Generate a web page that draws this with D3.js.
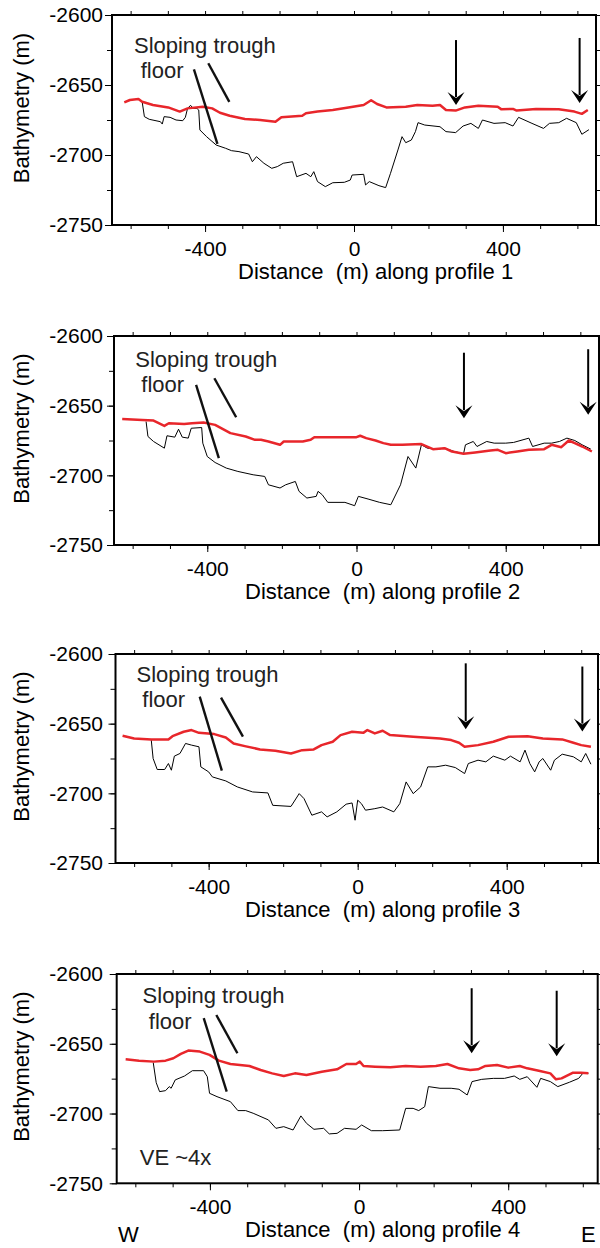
<!DOCTYPE html>
<html><head><meta charset="utf-8">
<script src="https://cdn.jsdelivr.net/npm/d3@7"></script>
<style>
html,body{margin:0;padding:0;background:#fff;}
svg{display:block;font-family:"Liberation Sans",Arial,Helvetica,sans-serif;}
</style></head>
<body>
<svg id="chart" width="600" height="1248"></svg>
<script>
// ---------------- DATA (distance m, bathymetry m) ----------------
const xTickLabels = [-400, 0, 400];
const xMinorTicks = [-600, -500, -400, -300, -200, -100, 0, 100, 200, 300, 400, 500, 600];
const yTickLabels = [-2600, -2650, -2700, -2750];
const yMinorTicks = [-2600, -2625, -2650, -2675, -2700, -2725, -2750];
const profileNames = ["profile 1", "profile 2", "profile 3", "profile 4"];

const redP1 = [[-617,-2662.4],[-602,-2660.7],[-579,-2660],[-569,-2662],[-540,-2664.3],[-499,-2666],[-468,-2669],[-447,-2666.7],[-406,-2665.5],[-381,-2666.7],[-360,-2669.8],[-334,-2672],[-293,-2674.3],[-252,-2675],[-211,-2676.2],[-195,-2673],[-139,-2672],[-129,-2670.2],[-98,-2669],[-57,-2667.9],[-15,-2666],[26,-2664.3],[46,-2660.9],[62,-2663.6],[87,-2666],[139,-2665.5],[170,-2664.3],[211,-2664.8],[231,-2664.3],[247,-2667.9],[273,-2668.3],[298,-2666],[334,-2664.8],[386,-2665.5],[396,-2667.4],[427,-2667.1],[437,-2668.3],[489,-2667.1],[550,-2667.4],[592,-2669],[612,-2670.6],[628,-2667.9]];
const blackP1 = [[-569,-2662],[-563,-2672.6],[-550,-2674.5],[-520,-2676.2],[-515,-2677.9],[-510,-2672.6],[-494,-2673.1],[-478,-2675],[-460,-2675.5],[-453,-2673.1],[-447,-2666.7],[-439,-2664.5],[-432,-2666.7],[-422,-2666.7],[-417,-2667.9],[-414,-2682.1],[-396,-2686.9],[-370,-2692.9],[-345,-2695.2],[-329,-2696.9],[-309,-2697.6],[-283,-2699.3],[-273,-2704.8],[-262,-2701.2],[-242,-2705.9],[-221,-2709.5],[-206,-2708.3],[-190,-2705.9],[-165,-2704.8],[-154,-2715.5],[-129,-2713.1],[-116,-2715.5],[-108,-2711.9],[-98,-2719],[-77,-2722.6],[-57,-2719.8],[-26,-2719.5],[-10,-2717.9],[-5,-2714.3],[26,-2713.8],[31,-2721.4],[41,-2719],[67,-2721.9],[85,-2723.3],[98,-2713.1],[118,-2696.4],[129,-2686.9],[139,-2691.2],[154,-2689.3],[165,-2683.3],[172,-2676.9],[190,-2678.6],[231,-2679.8],[247,-2683.3],[273,-2684],[293,-2679.3],[314,-2677.4],[334,-2681],[345,-2675],[376,-2677.4],[406,-2676.9],[427,-2679.3],[442,-2673.1],[478,-2677.4],[509,-2681],[525,-2677.4],[550,-2676.9],[571,-2673.8],[597,-2676.9],[612,-2685.2],[631,-2681.9]];

const redP2 = [[-628,-2659.5],[-574,-2660.2],[-544,-2660.7],[-515,-2664.5],[-503,-2662.6],[-462,-2663.1],[-441,-2662.6],[-410,-2662.1],[-379,-2663.8],[-338,-2669.7],[-297,-2672.1],[-272,-2674.5],[-256,-2674.5],[-236,-2675.7],[-205,-2678.1],[-195,-2675.7],[-144,-2675.7],[-123,-2674.5],[-113,-2672.6],[-62,-2672.6],[0,-2672.6],[10,-2671.6],[26,-2673.3],[51,-2675],[72,-2676.9],[92,-2678.1],[123,-2678.1],[174,-2677.6],[205,-2681.2],[236,-2680.5],[256,-2682.9],[287,-2684.5],[318,-2683.6],[359,-2682.2],[379,-2681.7],[400,-2684.1],[431,-2682.9],[462,-2681.7],[503,-2681.2],[523,-2678.1],[549,-2679.8],[569,-2675],[585,-2676.9],[605,-2679.3],[631,-2682.9]];
const blackP2 = [[-564,-2661.4],[-559,-2672.1],[-544,-2675.7],[-515,-2680.5],[-508,-2671.6],[-487,-2672.6],[-477,-2666.9],[-467,-2672.6],[-451,-2673.3],[-443,-2666.2],[-415,-2665.7],[-412,-2676.9],[-400,-2686.5],[-379,-2690.8],[-349,-2694.8],[-318,-2697.2],[-277,-2699.6],[-246,-2700.8],[-236,-2706.8],[-205,-2709.1],[-190,-2706.8],[-164,-2704.4],[-154,-2711.5],[-133,-2716.3],[-108,-2715.1],[-103,-2711.5],[-92,-2713.9],[-77,-2719.4],[-31,-2719.4],[-5,-2721.8],[5,-2715.1],[31,-2717],[62,-2719.4],[92,-2721.1],[118,-2706.8],[138,-2686.5],[159,-2694.8],[174,-2678.1],[190,-2680.5],[215,-2681.2],[236,-2680.5],[262,-2682.9],[287,-2684.5],[292,-2678.1],[313,-2675.7],[323,-2679.3],[349,-2675.7],[369,-2676.9],[400,-2676.9],[421,-2676.4],[462,-2673.3],[472,-2679.3],[503,-2676.9],[523,-2676.9],[544,-2675.7],[564,-2673.3],[585,-2675],[605,-2678.1],[628,-2681.2]];

const redP3 = [[-631,-2658.7],[-600,-2660.6],[-554,-2661.3],[-508,-2661.3],[-497,-2659],[-467,-2655.8],[-446,-2654.6],[-426,-2656.6],[-385,-2657.5],[-354,-2659.9],[-333,-2664.2],[-303,-2666.1],[-262,-2668.5],[-221,-2669.5],[-179,-2671.4],[-149,-2669],[-118,-2668.5],[-97,-2665.4],[-67,-2663],[-46,-2658.2],[-15,-2655.8],[15,-2656.6],[26,-2654.6],[46,-2657],[67,-2655.1],[87,-2658.2],[149,-2659.4],[221,-2660.6],[251,-2661.8],[272,-2663.7],[287,-2666.6],[323,-2665.4],[364,-2663],[405,-2659.4],[456,-2659],[497,-2660.6],[549,-2661.3],[579,-2663.7],[600,-2665.4],[626,-2666.6]];
const blackP3 = [[-554,-2661.8],[-549,-2675],[-538,-2682.9],[-518,-2682.9],[-508,-2678.6],[-500,-2683.4],[-492,-2673.3],[-477,-2671.4],[-462,-2664.2],[-446,-2665.4],[-426,-2666.6],[-421,-2681],[-400,-2684.6],[-390,-2688.2],[-354,-2691.1],[-323,-2695.4],[-282,-2699],[-241,-2699.7],[-228,-2708.6],[-179,-2709.4],[-157,-2700.2],[-144,-2703.8],[-123,-2715.7],[-97,-2713.3],[-82,-2716.9],[-56,-2713.3],[-31,-2707.8],[-15,-2706.9],[-7,-2719.3],[0,-2704.9],[10,-2707.4],[21,-2712.1],[46,-2711],[67,-2709.8],[97,-2713.3],[113,-2707.4],[130,-2691.8],[149,-2700.2],[169,-2695.4],[188,-2681],[210,-2681],[236,-2679.8],[262,-2681.5],[287,-2685.8],[297,-2678.6],[323,-2676.2],[344,-2677.4],[364,-2673.3],[395,-2676.2],[410,-2673.3],[436,-2677.4],[449,-2669],[462,-2678.6],[475,-2684.6],[487,-2677.4],[497,-2675],[518,-2683.4],[528,-2676.2],[549,-2671.9],[579,-2673.8],[600,-2677.4],[612,-2671.4],[626,-2679.1]];

const redP4 = [[-626,-2661.1],[-590,-2662.1],[-550,-2662.8],[-519,-2662.1],[-498,-2660.4],[-478,-2657.3],[-458,-2654.9],[-427,-2655.6],[-401,-2658],[-376,-2662.1],[-345,-2664.5],[-294,-2665.9],[-264,-2668.8],[-233,-2671.2],[-202,-2673.1],[-172,-2671.2],[-141,-2672.4],[-100,-2670],[-59,-2668.3],[-34,-2664.5],[-8,-2664.5],[2,-2662.8],[12,-2665.9],[43,-2666.4],[84,-2666.9],[125,-2665.9],[165,-2666.4],[206,-2665.9],[237,-2664.5],[268,-2667.6],[298,-2668.8],[319,-2668.3],[339,-2665.9],[370,-2665.2],[400,-2667.1],[431,-2665.9],[451,-2667.6],[482,-2669.3],[513,-2671.2],[528,-2675.5],[543,-2674.8],[574,-2670.7],[595,-2670.7],[615,-2671.2]];
const blackP4 = [[-552,-2663.5],[-544,-2677.9],[-535,-2684.3],[-519,-2683.6],[-509,-2680.7],[-504,-2681.9],[-493,-2675.9],[-468,-2673.1],[-447,-2669.3],[-417,-2669.3],[-407,-2673.6],[-401,-2685.5],[-381,-2687.9],[-345,-2691.5],[-325,-2697.9],[-304,-2697.9],[-284,-2699.8],[-243,-2704.6],[-223,-2710.6],[-202,-2709.4],[-177,-2711.8],[-156,-2701.7],[-141,-2707],[-121,-2711.3],[-95,-2710.6],[-80,-2714.6],[-59,-2714.2],[-39,-2710.6],[-8,-2711.3],[7,-2708.2],[33,-2712.3],[63,-2712.3],[109,-2711.8],[125,-2696.3],[145,-2696.3],[160,-2697.9],[176,-2695.1],[186,-2680.7],[217,-2681.9],[247,-2681.9],[268,-2682.6],[290,-2686.7],[303,-2677.1],[329,-2675.5],[360,-2674.8],[390,-2674.8],[416,-2673.1],[431,-2675.5],[451,-2673.6],[477,-2681.2],[487,-2674.8],[513,-2677.1],[533,-2680.7],[564,-2677.6],[589,-2674.8],[600,-2671.2],[615,-2671.2]];

// arrows: [distance, top bathymetry, tip bathymetry]
const arrowsP1 = [[274,-2617.9,-2664.3],[606,-2616.4,-2662.9]];
const arrowsP2 = [[288,-2612,-2659],[621,-2609.5,-2656.6]];
const arrowsP3 = [[290,-2606.7,-2654],[603,-2609,-2655.7]];
const arrowsP4 = [[302,-2610.2,-2656.8],[530,-2612,-2659]];

// "Sloping trough floor" pointer lines, in data units: [x1,y1,x2,y2]
const pointersP1 = [[-430,-2638.8,-366.8,-2692.1],[-391.4,-2634.5,-334.9,-2662.1]];
const pointersP2 = [[-430,-2635.1,-369,-2687.7],[-381,-2630.3,-322.5,-2658.3]];
const pointersP3 = [[-424,-2630.6,-364.6,-2683.7],[-366.8,-2631.3,-308,-2659.3]];
const pointersP4 = [[-416.6,-2631.7,-355,-2684.3],[-382.8,-2629.4,-326.3,-2656.8]];

// ---------------- LAYOUT ----------------
const layout = [
  {l:112, t:15,  r:596, b:225,  dom:[-650,650], lx:238,
   txt:[[-591,-2627],[-573,-2645]]},
  {l:114, t:336, r:599, b:545,  dom:[-650,650], lx:245,
   txt:[[-593,-2622],[-576.7,-2640]]},
  {l:115.5, t:654, r:598, b:863, dom:[-650,645], lx:245,
   txt:[[-593.5,-2620.3],[-578,-2638.2]]},
  {l:116.7, t:974, r:597.7, b:1183.3, dom:[-650,640], lx:245,
   txt:[[-580.5,-2621],[-564,-2639.6]]}
];
const reds = [redP1, redP2, redP3, redP4];
const blacks = [blackP1, blackP2, blackP3, blackP4];
const arrows = [arrowsP1, arrowsP2, arrowsP3, arrowsP4];
const pointers = [pointersP1, pointersP2, pointersP3, pointersP4];

const FS = 21, FT = 22;
const svg = d3.select("#chart");
const fmt = d => String(d);

layout.forEach((L, i) => {
  const x = d3.scaleLinear().domain(L.dom).range([L.l, L.r]);
  const y = d3.scaleLinear().domain([-2750, -2600]).range([L.b, L.t]);
  const g = svg.append("g");

  const minorStyle = sel => { sel.select(".domain").remove(); sel.selectAll("line").attr("stroke","#000").attr("stroke-width",1); };
  const xm = xMinorTicks.filter(v=>v>=L.dom[0]&&v<=L.dom[1]);
  g.append("g").attr("transform",`translate(0,${L.b})`)
    .call(d3.axisBottom(x).tickValues(xm).tickSize(4).tickFormat("")).call(minorStyle);
  g.append("g").attr("transform",`translate(0,${L.t})`)
    .call(d3.axisTop(x).tickValues(xm).tickSize(4).tickFormat("")).call(minorStyle);
  g.append("g").attr("transform",`translate(${L.l},0)`)
    .call(d3.axisLeft(y).tickValues(yMinorTicks).tickSize(5).tickFormat("")).call(minorStyle);
  g.append("g").attr("transform",`translate(${L.r},0)`)
    .call(d3.axisRight(y).tickValues(yMinorTicks).tickSize(5).tickFormat("")).call(minorStyle);

  const ax = g.append("g").attr("transform",`translate(0,${L.b})`)
    .call(d3.axisBottom(x).tickValues(xTickLabels).tickSize(7).tickPadding(9).tickFormat(fmt));
  ax.select(".domain").remove();
  ax.selectAll("text").attr("font-size",FS).attr("font-family",'"Liberation Sans",Arial,sans-serif').attr("fill","#000");
  ax.selectAll("line").attr("stroke","#000");

  const ay = g.append("g").attr("transform",`translate(${L.l},0)`)
    .call(d3.axisLeft(y).tickValues(yTickLabels).tickSize(7).tickPadding(L.l - 7 - 103).tickFormat(fmt));
  ay.select(".domain").remove();
  ay.selectAll("text").attr("font-size",FS).attr("font-family",'"Liberation Sans",Arial,sans-serif').attr("fill","#000");
  ay.selectAll("line").attr("stroke","#000");

  const cid = "clip"+i;
  svg.append("clipPath").attr("id",cid).append("rect")
    .attr("x",L.l).attr("y",L.t).attr("width",L.r-L.l).attr("height",L.b-L.t);

  const line = d3.line().x(d=>x(d[0])).y(d=>y(d[1]));
  const plot = g.append("g").attr("clip-path",`url(#${cid})`);
  plot.append("path").datum(blacks[i]).attr("d",line)
    .attr("fill","none").attr("stroke","#000").attr("stroke-width",1).attr("stroke-linejoin","round");
  plot.append("path").datum(reds[i]).attr("d",line)
    .attr("fill","none").attr("stroke","#e8262b").attr("stroke-width",2.5).attr("stroke-linejoin","round");

  g.append("rect").attr("x",L.l).attr("y",L.t).attr("width",L.r-L.l).attr("height",L.b-L.t)
    .attr("fill","none").attr("stroke","#000").attr("stroke-width",2);

  arrows[i].forEach(a => {
    const ax0 = x(a[0]), y0 = y(a[1]), y1 = y(a[2]);
    g.append("line").attr("x1",ax0).attr("x2",ax0).attr("y1",y0).attr("y2",y1-8)
      .attr("stroke","#000").attr("stroke-width",2);
    g.append("path").attr("d",`M${ax0-8.5},${y1-13}L${ax0},${y1-7}L${ax0+8.5},${y1-13}L${ax0},${y1}Z`)
      .attr("fill","#000");
  });

  pointers[i].forEach(p => {
    g.append("line").attr("x1",x(p[0])).attr("y1",y(p[1])).attr("x2",x(p[2])).attr("y2",y(p[3]))
      .attr("stroke","#111").attr("stroke-width",2.4);
  });

  g.append("text").attr("x",x(L.txt[0][0])).attr("y",y(L.txt[0][1])).attr("font-size",FT).attr("fill","#222").text("Sloping trough");
  g.append("text").attr("x",x(L.txt[1][0])).attr("y",y(L.txt[1][1])).attr("font-size",FT).attr("fill","#222").text("floor");

  g.append("text").attr("x",L.lx).attr("y",L.b+54).attr("font-size",FT).attr("fill","#000")
    .style("white-space","pre").text("Distance  (m) along " + profileNames[i]);
  const cy = (L.t+L.b)/2 - 12;
  g.append("text").attr("transform",`translate(29,${cy}) rotate(-90)`).attr("text-anchor","middle")
    .attr("font-size",FT).attr("fill","#000").text("Bathymetry (m)");

  if (i === 3) {
    g.append("text").attr("x",x(-588)).attr("y",y(-2737)).attr("font-size",FT).attr("fill","#222").text("VE ~4x");
    svg.append("text").attr("x",118).attr("y",1242).attr("font-size",22).attr("fill","#000").text("W");
    svg.append("text").attr("x",581).attr("y",1242).attr("font-size",22).attr("fill","#000").text("E");
  }
});
</script>
</body></html>
